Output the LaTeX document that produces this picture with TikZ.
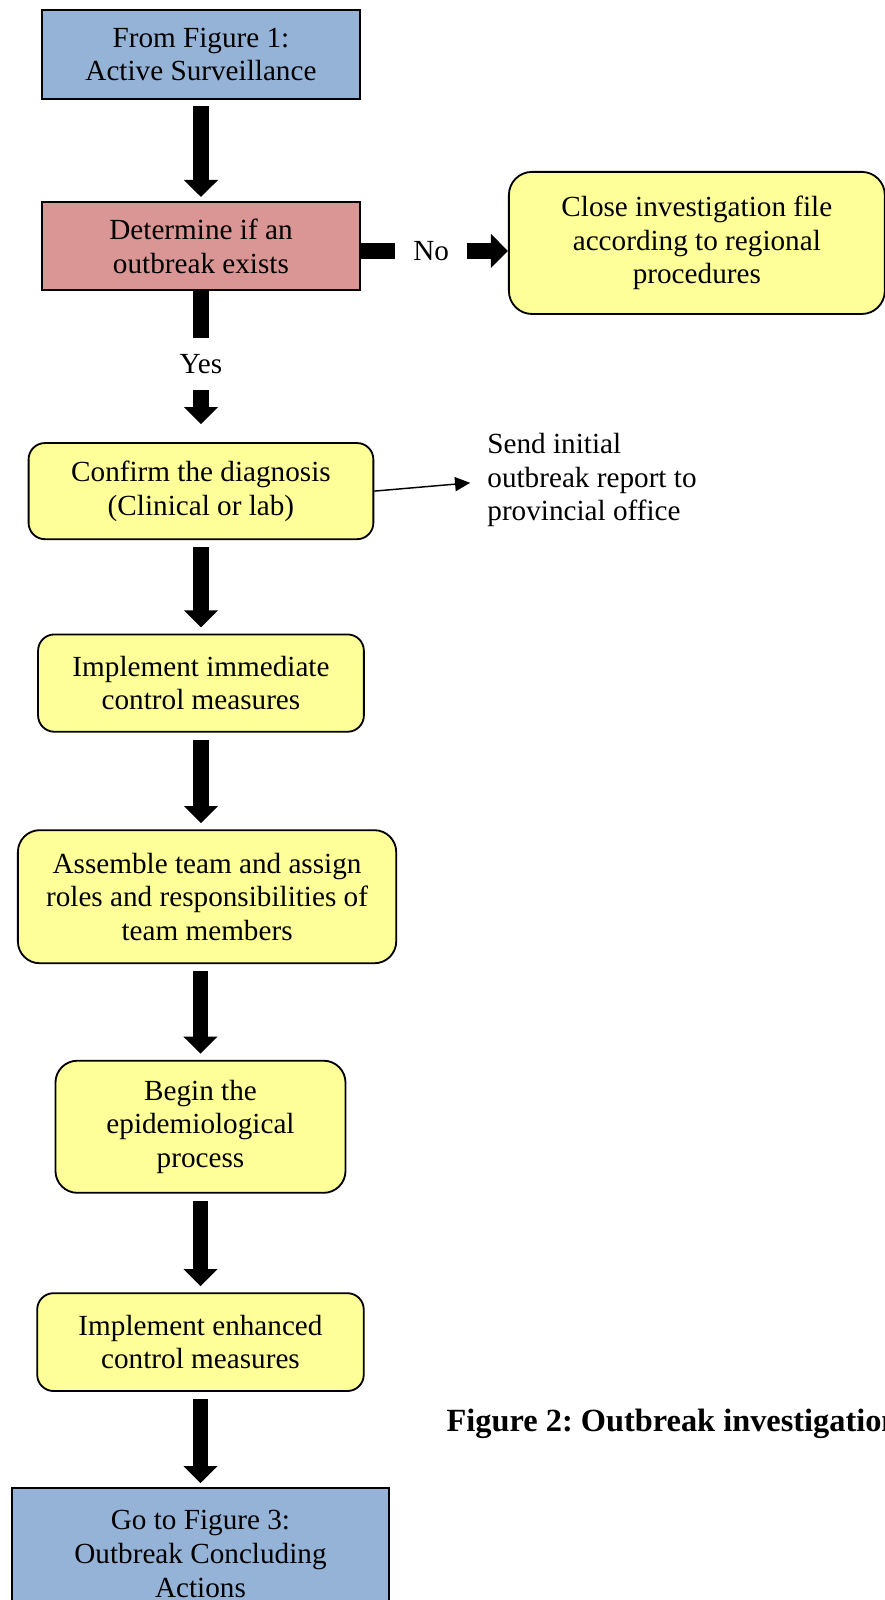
\documentclass[tikz,border=0pt]{standalone}
\usepackage{fontspec}
\setmainfont{Liberation Serif}
\frenchspacing
\usetikzlibrary{positioning,arrows.meta}
\definecolor{figblue}{RGB}{149,179,215}
\definecolor{decred}{RGB}{217,150,148}
\definecolor{stepyellow}{RGB}{255,255,153}
\tikzset{
  bodyfont/.style={font=\fontsize{12}{13.85}\selectfont},
  box/.style={draw=black, line width=0.75pt, align=center, inner sep=2pt, bodyfont},
  figbox/.style={box, fill=figblue},
  decbox/.style={box, fill=decred},
  stepbox/.style={box, fill=stepyellow, rounded corners=6.7pt},
  bigarrow/.style={line width=6.4pt, -{Triangle[length=7pt,width=13.6pt]}},
  thinarrow/.style={line width=0.6pt, -{Triangle[length=6.2pt,width=5.8pt]}},
}

\begin{document}
\begin{tikzpicture}[node distance=40.5pt]
\useasboundingbox (0,0) rectangle (363.7pt,-657.6pt);
\node[figbox, minimum width=130.7pt, minimum height=36.6pt] (fig1) at (82.6pt,-22.4pt) {From Figure 1:\\Active Surveillance};
\node[decbox, below=41.5pt of fig1, minimum width=131pt, minimum height=36.4pt] (exists) {Determine if an\\outbreak exists};
\node[stepbox, right=60.3pt of exists, yshift=1.3pt, minimum width=154.5pt, minimum height=58.4pt, rounded corners=9.5pt] (close) {Close investigation file\\according to regional\\procedures};
\node[stepbox, below=62pt of exists, minimum width=141.7pt, minimum height=39.5pt] (confirm) {Confirm the diagnosis\\(Clinical or lab)};
\node[right=46.3pt of confirm, yshift=4.5pt, inner sep=0pt, align=left, bodyfont] (report) {Send initial\\outbreak report to\\provincial office};
\node[stepbox, below=38.4pt of confirm, minimum width=133.9pt, minimum height=40pt] (immediate) {Implement immediate\\control measures};
\node[stepbox, below=39.7pt of immediate, xshift=2.5pt, minimum width=155.5pt, minimum height=54.7pt, rounded corners=9pt] (team) {Assemble team and assign\\roles and responsibilities of\\team members};
\node[stepbox, below=39.3pt of team, xshift=-2.7pt, minimum width=119.2pt, minimum height=54.3pt, rounded corners=9pt] (epi) {Begin the\\epidemiological\\process};
\node[stepbox, below=of epi, minimum width=134.2pt, minimum height=40.2pt] (enhanced) {Implement enhanced\\control measures};
\node[figbox, below=39.1pt of enhanced, minimum width=155.2pt, minimum height=54.3pt] (fig3) {Go to Figure 3:\\Outbreak Concluding\\Actions};
\node[anchor=base west, inner sep=0pt, font=\fontsize{13.3}{16}\selectfont\bfseries] (caption) at (183.4pt,-588.3pt) {Figure 2: Outbreak investigation};

\coordinate (nostart) at ([yshift=-2pt]exists.east);
\draw[bigarrow, shorten <=2.5pt, shorten >=1.6pt] (fig1) -- (exists);
\draw[bigarrow] (nostart) -- node[pos=0.476, fill=white, inner sep=0pt, minimum width=29.6pt, bodyfont] {No} (nostart -| close.west);
\draw[bigarrow, shorten >=7.4pt] (exists) -- node[pos=0.48, fill=white, inner sep=0pt, minimum height=21.4pt, bodyfont] {Yes} (confirm);
\draw[thinarrow] (confirm.east) -- ([xshift=-6.9pt,yshift=-1.1pt]report.west);
\draw[bigarrow, shorten <=2.9pt, shorten >=2.5pt] (confirm) -- (immediate);
\draw[bigarrow, shorten <=2.9pt, shorten >=2.5pt] (immediate.south) -- (immediate.south |- team.north);
\draw[bigarrow, shorten <=2.9pt, shorten >=2.5pt] (epi.north |- team.south) -- (epi.north);
\draw[bigarrow, shorten <=2.9pt, shorten >=2.5pt] (epi) -- (enhanced);
\draw[bigarrow, shorten <=2.9pt, shorten >=1.6pt] (enhanced) -- (fig3);
\end{tikzpicture}
\end{document}
